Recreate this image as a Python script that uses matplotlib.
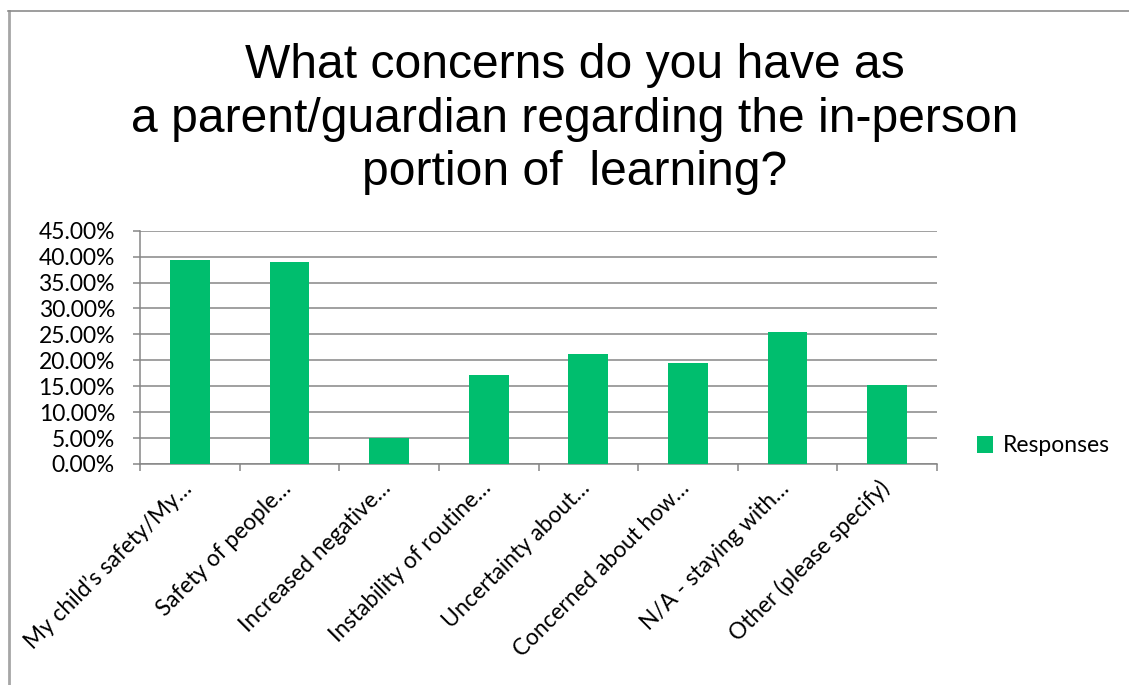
import matplotlib
matplotlib.use("Agg")
import matplotlib.pyplot as plt
from matplotlib.lines import Line2D
from matplotlib.patches import Patch
from matplotlib.ticker import FixedLocator, FuncFormatter, NullFormatter

categories = [
    "My child\u2019s safety/My\u2026",
    "Safety of people\u2026",
    "Increased negative\u2026",
    "Instability of routine\u2026",
    "Uncertainty about\u2026",
    "Concerned about how\u2026",
    "N/A - staying with\u2026",
    "Other (please specify)",
]
responses = [0.394, 0.390, 0.051, 0.171, 0.213, 0.194, 0.255, 0.153]
series_name = "Responses"
title = ("What concerns do you have as\n"
         "a parent/guardian regarding the in-person\n"
         "portion of  learning?")

W, H, DPI = 1129, 685, 100
bar_color = "#00BE6E"
axis_grey = "#868686"
label_font = "Lato"

fig = plt.figure(figsize=(W / DPI, H / DPI), dpi=DPI)
fig.patch.set_facecolor("white")

# chart frame (top and left edges)
fig.add_artist(Line2D([8.5 / W, 8.5 / W], [0, 1 - 11 / H], transform=fig.transFigure,
                      color="#a6a6a6", lw=2.0))
fig.add_artist(Line2D([8 / W, 1], [1 - 11 / H, 1 - 11 / H], transform=fig.transFigure,
                      color="#8c8c8c", lw=1.2))

left, right = 140 / W, 937 / W
bottom, top = 1 - 464 / H, 1 - 230.7 / H
ax = fig.add_axes([left, bottom, right - left, top - bottom])

x = list(range(len(categories)))
ax.bar(x, responses, width=0.4, color=bar_color, zorder=3)

ax.set_xlim(-0.5, len(categories) - 0.5)
ax.set_ylim(0, 0.45)
ax.yaxis.set_major_locator(FixedLocator([i * 0.05 for i in range(10)]))
ax.yaxis.set_major_formatter(FuncFormatter(lambda v, p: f"{v * 100:.2f}%"))
ax.grid(axis="y", color=axis_grey, lw=1.1, zorder=0)
ax.set_axisbelow(True)

for s in ["top", "right"]:
    ax.spines[s].set_visible(False)
for s in ["left", "bottom"]:
    ax.spines[s].set_color(axis_grey)
    ax.spines[s].set_linewidth(1.1)

# category boundary ticks on x, labels at bar centres
ax.xaxis.set_major_locator(FixedLocator([i - 0.5 for i in range(len(categories) + 1)]))
ax.xaxis.set_major_formatter(NullFormatter())
ax.tick_params(axis="x", which="major", length=5, color=axis_grey, width=1.1, direction="out")
ax.tick_params(axis="y", which="major", length=5, color=axis_grey, width=1.1,
               direction="out", labelsize=16.5, pad=13)
for lab in ax.get_yticklabels():
    lab.set_fontfamily(label_font)

for i, c in enumerate(categories):
    ax.annotate(c, xy=(i, 0), xycoords=("data", "axes fraction"),
                xytext=(-1, -15), textcoords="offset points",
                rotation=45, rotation_mode="anchor", ha="right", va="center",
                fontsize=16.3, family=label_font)

fig.text(575 / W, 1 - 119 / H, title, ha="center", va="center",
         fontsize=34.6, family="Liberation Sans", linespacing=1.25)

leg = fig.legend(handles=[Patch(facecolor=bar_color, edgecolor="none")],
                 labels=[series_name], loc="center left",
                 bbox_to_anchor=(956 / W, 1 - 446 / H), frameon=False,
                 handlelength=0.7, handleheight=0.7, handletextpad=0.45,
                 prop={"family": label_font, "size": 16.5})

fig.savefig("out.png", dpi=DPI, facecolor="white")
